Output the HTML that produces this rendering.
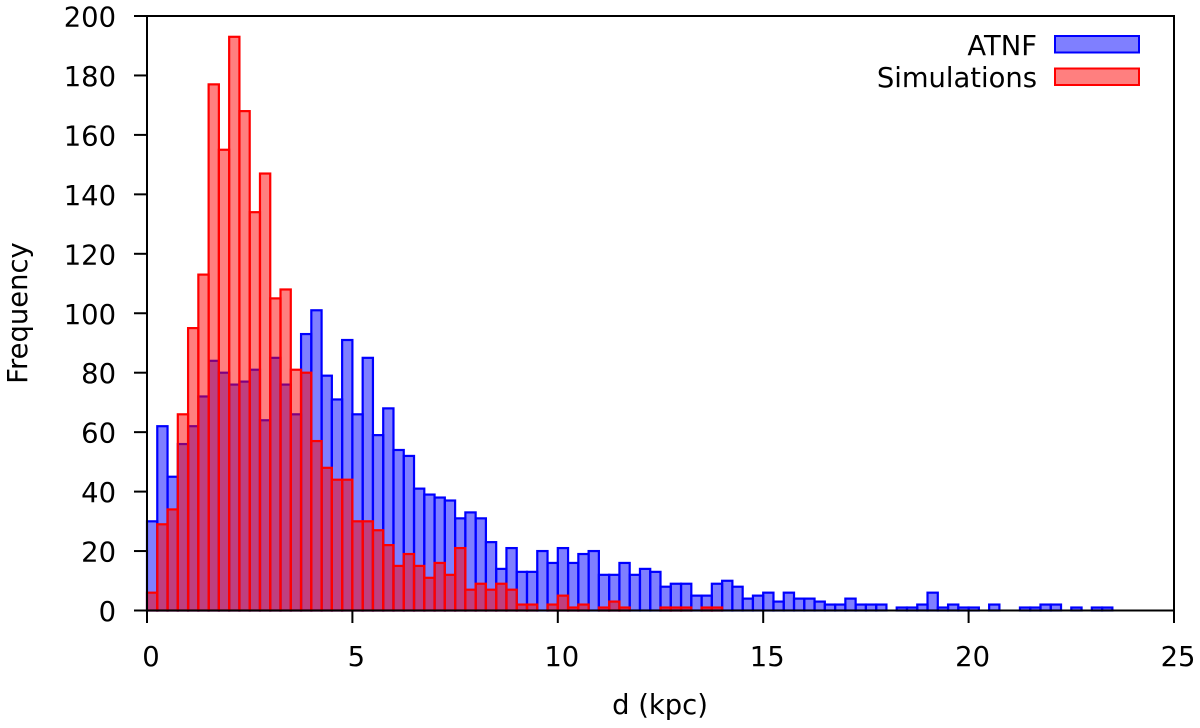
<!DOCTYPE html>
<html>
<head>
<meta charset="utf-8">
<title>Frequency histogram of d (kpc)</title>
<style>
html,body{margin:0;padding:0;background:#fff;}
svg{display:block;}
text{font-family:"DejaVu Sans","Liberation Sans",sans-serif;font-size:27.4px;fill:#000;}
</style>
</head>
<body>
<svg id="chart" width="1200" height="728" viewBox="0 0 1200 728" xmlns="http://www.w3.org/2000/svg"></svg>
<script>
const binWidthKpc = 0.25;
const xTickValues = [0, 5, 10, 15, 20, 25];
const yTickValues = [0, 20, 40, 60, 80, 100, 120, 140, 160, 180, 200];
const atnfCounts = [30,62,45,56,62,72,84,80,76,77,81,64,85,76,66,93,101,79,71,91,66,85,59,68,54,52,41,39,38,37,31,33,31,23,14,21,13,13,20,16,21,16,19,20,12,12,16,12,14,13,8,9,9,5,5,9,10,8,4,5,6,3,6,4,4,3,2,2,4,2,2,2,0,1,1,2,6,1,2,1,1,0,2,0,0,1,1,2,2,0,1,0,1,1];
const simulationCounts = [6,29,34,66,95,113,177,155,193,168,134,147,105,108,81,80,57,48,44,44,30,30,27,22,15,19,15,11,16,12,21,7,9,7,9,7,2,2,0,2,5,1,2,0,1,3,1,0,0,0,1,1,1,0,1,1];

const plotLeft = 147, plotRight = 1174, plotTop = 16, plotBottom = 610.5;
const xMax = 25, yMax = 200;
const NS = 'http://www.w3.org/2000/svg';
const svg = document.getElementById('chart');
function xScale(v){ return plotLeft + v / xMax * (plotRight - plotLeft); }
function yScale(v){ return plotBottom - v / yMax * (plotBottom - plotTop); }
function make(tag, attrs, parent){
  const el = document.createElementNS(NS, tag);
  for (const k in attrs) el.setAttribute(k, attrs[k]);
  (parent || svg).appendChild(el);
  return el;
}
function drawSeries(values, groupName, barName, fill, stroke){
  const g = make('g', {});
  
  
  values.forEach(function(v, i){
    const r = make('rect', {
      x: xScale(i * binWidthKpc),
      y: yScale(v),
      width: xScale((i + 1) * binWidthKpc) - xScale(i * binWidthKpc),
      height: plotBottom - yScale(v),
      fill: fill,
      'fill-opacity': 0.5,
      stroke: stroke,
      'stroke-width': 2.2
    }, g);
    
    
  });
}
drawSeries(atnfCounts, 'atnf-series', 'atnf-bar', '#0000ff', '#0000ff');
drawSeries(simulationCounts, 'simulations-series', 'simulations-bar', '#ff0000', '#ff0000');

const frame = make('rect', {x: plotLeft, y: plotTop, width: plotRight - plotLeft, height: plotBottom - plotTop, fill: 'none', stroke: '#000', 'stroke-width': 2});



xTickValues.forEach(function(v){
  const t = make('line', {x1: xScale(v), x2: xScale(v), y1: plotBottom, y2: 623, stroke: '#000', 'stroke-width': 2});
  
  
  const l = make('text', {x: xScale(v) + 4, y: 666, 'text-anchor': 'middle'});
  l.textContent = v;
  
  
});
yTickValues.forEach(function(v){
  const t = make('line', {x1: 134, x2: plotLeft, y1: yScale(v), y2: yScale(v), stroke: '#000', 'stroke-width': 2});
  
  
  const l = make('text', {x: 116, y: yScale(v) + 10.5, 'text-anchor': 'end'});
  l.textContent = v;
  
  
});

const xTitle = make('text', {x: 660, y: 714, 'text-anchor': 'middle'});
xTitle.textContent = 'd (kpc)';



const yTitle = make('text', {x: 0, y: 0, 'text-anchor': 'middle', transform: 'translate(27 313) rotate(-90)'});
yTitle.textContent = 'Frequency';



const legend = make('g', {});



const atnfLabel = make('text', {x: 1037, y: 55, 'text-anchor': 'end'}, legend);
atnfLabel.textContent = 'ATNF';



const atnfSwatch = make('rect', {x: 1055, y: 36, width: 84, height: 16.5, fill: '#0000ff', 'fill-opacity': 0.5, stroke: '#0000ff', 'stroke-width': 2}, legend);



const simLabel = make('text', {x: 1037, y: 87, 'text-anchor': 'end'}, legend);
simLabel.textContent = 'Simulations';



const simSwatch = make('rect', {x: 1055, y: 68.5, width: 84, height: 16.5, fill: '#ff0000', 'fill-opacity': 0.5, stroke: '#ff0000', 'stroke-width': 2}, legend);


</script>
</body>
</html>
